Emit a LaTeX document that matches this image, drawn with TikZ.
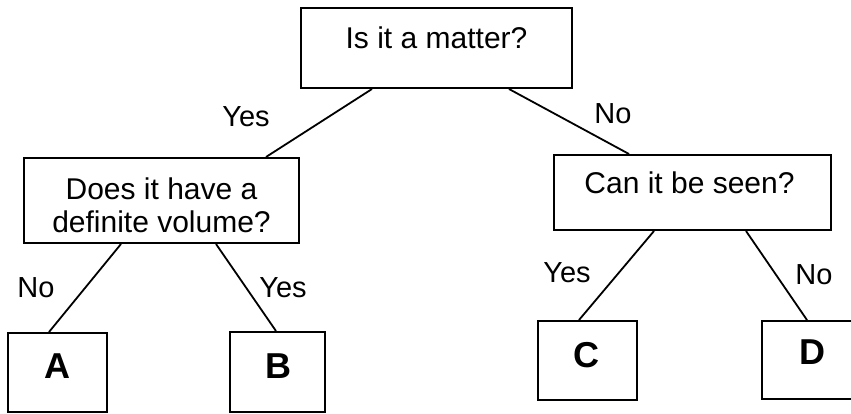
\documentclass[tikz,border=0pt]{standalone}
\usepackage{fontspec}
\setmainfont{Liberation Sans}
\begin{document}
\begin{tikzpicture}[x=1pt,y=-1pt,
  box/.style={draw, line width=2pt, inner sep=0pt},
  conn/.style={line width=1.8pt},
  lbl/.style={inner sep=0pt, font=\fontsize{29}{33}\selectfont},
  txt/.style={inner sep=0pt, align=center, font=\fontsize{30}{33}\selectfont},
  letter/.style={inner sep=0pt, font=\fontsize{36}{40}\selectfont\bfseries}]
\useasboundingbox (0,0) rectangle (851,413);
\clip (0,0) rectangle (851,413);
% boxes
\node[box, minimum width=271pt, minimum height=80pt] (top) at (436.5,48) {};
\node[box, minimum width=275pt, minimum height=85pt] (left) at (161.5,200.5) {};
\node[box, minimum width=277pt, minimum height=75pt] (right) at (692.5,192.5) {};
\node[box, minimum width=99pt, minimum height=79pt] (A) at (57.5,372.5) {};
\node[box, minimum width=95pt, minimum height=80pt] (B) at (277.5,372) {};
\node[box, minimum width=99pt, minimum height=79pt] (C) at (587.5,360.5) {};
\node[box, minimum width=100pt, minimum height=78pt] (D) at (812,360) {};
% texts
\node[txt] (ttop) at (436.5,37.5) {Is it a matter?};
\node[txt] (tleft) at (161.5,205.5) {Does it have a\\definite volume?};
\node[txt] (tright) at (689.5,183) {Can it be seen?};
\node[letter] (lA) at (57,366) {A};
\node[letter] (lB) at (278,366) {B};
\node[letter] (lC) at (586,355) {C};
\node[letter] (lD) at (812,352) {D};
% connectors
\draw[conn] ([xshift=72pt]top.south west) -- ([xshift=243pt]left.north west);
\draw[conn] ([xshift=209pt]top.south west) -- ([xshift=76pt]right.north west);
\draw[conn] ([xshift=98pt]left.south west) -- ([xshift=42pt]A.north west);
\draw[conn] ([xshift=193pt]left.south west) -- ([xshift=47pt]B.north west);
\draw[conn] ([xshift=101pt]right.south west) -- ([xshift=42pt]C.north west);
\draw[conn] ([xshift=193pt]right.south west) -- ([xshift=46pt]D.north west);
% labels
\node[lbl] (y1) at (246,117) {Yes};
\node[lbl] (n1) at (613,114) {No};
\node[lbl] (n2) at (36,288) {No};
\node[lbl] (y2) at (283,288) {Yes};
\node[lbl] (y3) at (567,273) {Yes};
\node[lbl] (n3) at (814,275) {No};
\end{tikzpicture}
\end{document}
